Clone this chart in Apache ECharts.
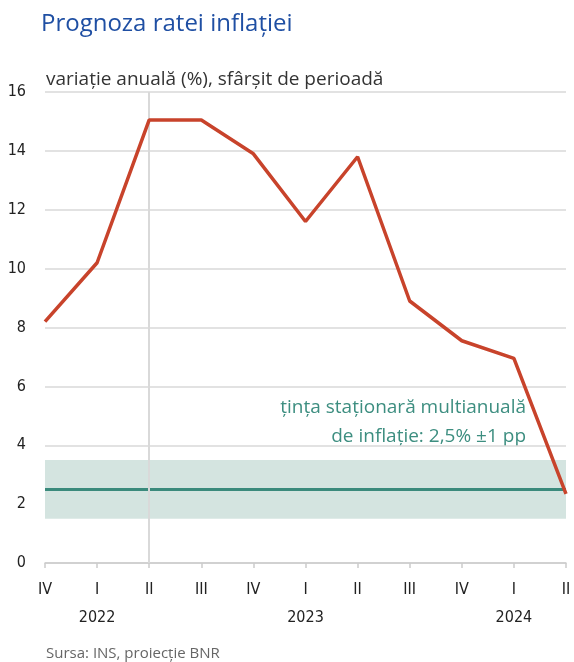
<!DOCTYPE html>
<html>
<head>
<meta charset="utf-8">
<script src="https://cdn.jsdelivr.net/npm/echarts@6/dist/echarts.min.js"></script>
<style>
html,body{margin:0;padding:0;background:#fff;}
#c{width:574px;height:662px;}
</style>
</head>
<body>
<div id="c"></div>
<script>
const quarters = ['IV','I','II','III','IV','I','II','III','IV','I','II'];
const years = ['', '2022', '', '', '', '2023', '', '', '', '2024', ''];
const inflation = [8.2, 10.2, 15.05, 15.05, 13.9, 11.6, 13.8, 8.9, 7.55, 6.95, 2.35];
const target = 2.5;
const bandLow = 1.5;
const bandHigh = 3.5;
const yTicks = [0, 2, 4, 6, 8, 10, 12, 14, 16];
const markedQuarterIndex = 2;

const FONT = '"Liberation Sans Narrow", "DejaVu Sans Condensed", "Liberation Sans", sans-serif';
const FONT2 = '"Open Sans", "Noto Sans", sans-serif';

const chart = echarts.init(document.getElementById('c'));
chart.setOption({
  animation: false,
  title: [{
    text: 'Prognoza ratei inflației',
    left: 36, top: 7,
    textStyle: {fontFamily: FONT2, fontSize: 24, fontWeight: 'normal', color: '#1f4fa3'}
  }, {
    text: 'variație anuală (%), sfârșit de perioadă',
    left: 41, top: 65,
    textStyle: {fontFamily: FONT2, fontSize: 19, fontWeight: 'normal', color: '#333'}
  }, {
    text: 'Sursa: INS, proiecție BNR',
    left: 41, top: 641,
    textStyle: {fontFamily: FONT2, fontSize: 15, fontWeight: 'normal', color: '#666'}
  }],
  grid: {left: 45, right: 8, top: 92, bottom: 99, containLabel: false},
  xAxis: {
    type: 'category',
    data: quarters,
    boundaryGap: false,
    axisLine: {lineStyle: {color: '#cccccc', width: 1.5}},
    axisTick: {show: true, interval: 0, length: 5, lineStyle: {color: '#cccccc', width: 1.5}},
    axisLabel: {
      interval: 0, margin: 13,
      fontFamily: FONT, fontSize: 16, color: '#222', lineHeight: 28,
      formatter: (v, i) => years[i] ? v + '\n' + years[i] : v + '\n '
    },
    splitLine: {show: false}
  },
  yAxis: {
    type: 'value',
    min: yTicks[0], max: yTicks[yTicks.length - 1], interval: 2,
    axisLine: {show: false},
    axisTick: {show: false},
    axisLabel: {fontFamily: FONT, fontSize: 16, color: '#222', margin: 19},
    splitLine: {lineStyle: {color: '#d9d9d9', width: 1.5}}
  },
  graphic: [{
    type: 'text', x: 526, y: 408,
    style: {
      text: 'țința staționară multianuală',
      align: 'right', verticalAlign: 'middle', fontFamily: FONT2, fontSize: 19, fill: '#3d8e80'
    }
  }, {
    type: 'text', x: 526, y: 437,
    style: {
      text: 'de inflație: 2,5% ±1 pp',
      align: 'right', verticalAlign: 'middle', fontFamily: FONT2, fontSize: 19, fill: '#3d8e80'
    }
  }],
  series: [{
    type: 'line',
    data: inflation,
    symbol: 'none',
    lineStyle: {color: '#c8432b', width: 3.5},
    z: 5,
    markArea: {
      silent: true,
      itemStyle: {color: '#d4e4e0'},
      data: [[{yAxis: bandLow}, {yAxis: bandHigh}]]
    },
    markLine: {
      silent: true,
      symbol: 'none',
      label: {show: false},
      data: [
        {yAxis: target, lineStyle: {color: '#3a8a7c', width: 3, type: 'solid'}},
        {xAxis: markedQuarterIndex, lineStyle: {color: '#d9d9d9', width: 2, type: 'solid'}}
      ]
    }
  }]
});
</script>
</body>
</html>
